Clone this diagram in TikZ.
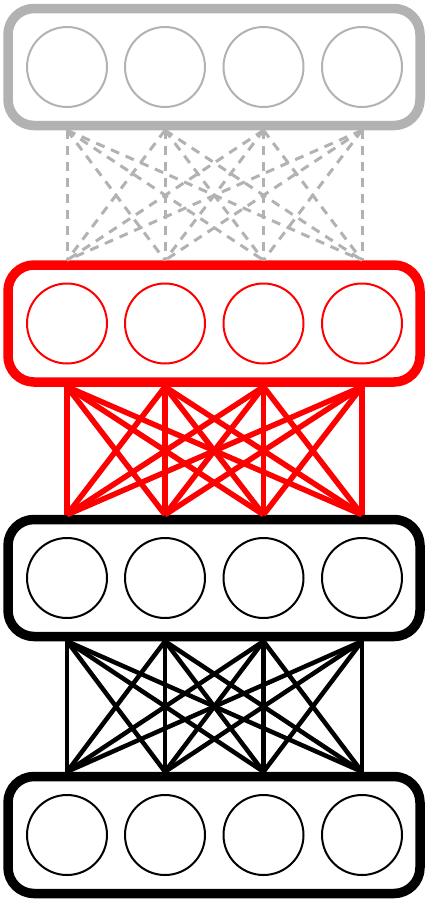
\documentclass[tikz,border=0pt]{standalone}
\definecolor{lgray}{RGB}{178,178,178}
\definecolor{pred}{RGB}{255,0,0}
\begin{document}
\begin{tikzpicture}[x=1pt,y=-1pt,
  unit/.style={circle, draw, line width=2pt, minimum size=80pt, inner sep=0pt},
  layer/.style={rectangle, rounded corners=26pt, draw, line width=9.5pt, minimum width=412pt, minimum height=117pt, inner sep=0pt},
  gconn/.style={draw=lgray, line width=3pt, dash pattern=on 9pt off 7pt},
  rconn/.style={draw=pred, line width=5.5pt},
  kconn/.style={draw=black, line width=4.5pt}]
\useasboundingbox (0,0) rectangle (429,902);
% layers
\node[layer, draw=lgray] (L1) at (214,67) {};
\node[layer, draw=pred] (L2) at (214,323.5) {};
\node[layer, draw=black] (L3) at (214,578) {};
\node[layer, draw=black] (L4) at (214,835) {};
\foreach \i/\x in {1/67,2/165,3/263.5,4/362}{
  \node[unit, draw=lgray] (a\i) at (\x,67) {};
  \node[unit, draw=pred] (b\i) at (\x,323.5) {};
  \node[unit, draw=black] (c\i) at (\x,578) {};
  \node[unit, draw=black] (d\i) at (\x,835) {};
}
% connectors
\foreach \i in {1,...,4}{
  \foreach \j in {1,...,4}{
    \draw[gconn] (a\i |- L1.south) -- (b\j |- L2.north);
    \draw[rconn] (b\i |- L2.south) -- (c\j |- L3.north);
    \draw[kconn] (c\i |- L3.south) -- (d\j |- L4.north);
  }
}
\end{tikzpicture}
\end{document}
